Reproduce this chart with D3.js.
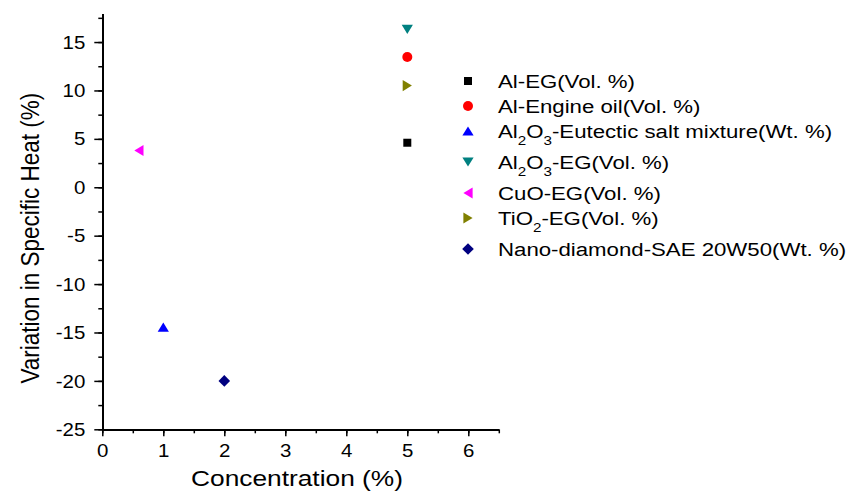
<!DOCTYPE html>
<html>
<head>
<meta charset="utf-8">
<script src="https://cdn.jsdelivr.net/npm/d3@7"></script>
<style>
  html, body { margin: 0; padding: 0; background: #fff; }
  svg text { font-family: "Liberation Sans", Arial, sans-serif; fill: #000; }
</style>
</head>
<body>
<svg id="chart" width="852" height="498"></svg>
<script>
// ---------- data ----------
const seriesNames = [
  "Al-EG(Vol. %)",
  "Al-Engine oil(Vol. %)",
  "Al_2O_3-Eutectic salt mixture(Wt. %)",
  "Al_2O_3-EG(Vol. %)",
  "CuO-EG(Vol. %)",
  "TiO_2-EG(Vol. %)",
  "Nano-diamond-SAE 20W50(Wt. %)"
];
const concentration = [5, 5, 1, 5, 0.6, 5, 2];
const variation = [4.6, 13.45, -14.45, 16.3, 3.8, 10.5, -20.0];
const symbols = ["square", "circle", "triUp", "triDown", "triLeft", "triRight", "diamond"];
const colors = ["#000000", "#ff0000", "#0000ff", "#008080", "#ff00ff", "#808000", "#000080"];
const xTicks = [0, 1, 2, 3, 4, 5, 6];
const yTicks = [-25, -20, -15, -10, -5, 0, 5, 10, 15];
const xTitle = "Concentration (%)";
const yTitle = "Variation in Specific Heat (%)";

// ---------- layout ----------
const svg = d3.select("#chart");
const STRETCH = 1.17;
const x = d3.scaleLinear().domain([0, 6.5]).range([102.3, 498.8]);
const y = d3.scaleLinear().domain([-25, 18]).range([429.3, 13]);
const fmt = d => String(d);

// minor ticks
const xMinor = d3.range(0, 6.51, 0.5);
const yMinor = d3.range(-25, 18.01, 2.5);

const gx = svg.append("g").attr("transform", `translate(0,${y(-25)})`);
gx.call(d3.axisBottom(x).tickValues(xMinor).tickSize(4).tickSizeOuter(0).tickFormat(""));
gx.call(g => g.select(".domain").remove());
const gxMajor = svg.append("g").attr("transform", `translate(0,${y(-25)})`);
gxMajor.call(d3.axisBottom(x).tickValues(xTicks).tickSize(7).tickSizeOuter(0).tickPadding(7).tickFormat(fmt));

const gy = svg.append("g").attr("transform", `translate(${x(0)},0)`);
gy.call(d3.axisLeft(y).tickValues(yMinor).tickSize(4).tickSizeOuter(0).tickFormat(""));
gy.call(g => g.select(".domain").remove());
const gyMajor = svg.append("g").attr("transform", `translate(${x(0)},0)`);
gyMajor.call(d3.axisLeft(y).tickValues(yTicks).tickSize(8).tickSizeOuter(0).tickPadding(7).tickFormat(fmt));

svg.selectAll(".domain, .tick line").attr("stroke", "#000").attr("stroke-width", 1.5);
svg.selectAll(".domain").attr("shape-rendering", "crispEdges");

gxMajor.selectAll(".tick text")
  .attr("font-size", 17.5).attr("font-family", "Liberation Sans, Arial, sans-serif")
  .attr("fill", "#000").attr("dy", null).attr("y", 0)
  .attr("transform", `translate(0,27.5) scale(${STRETCH},1)`);
gyMajor.selectAll(".tick text")
  .attr("font-size", 17.5).attr("font-family", "Liberation Sans, Arial, sans-serif")
  .attr("fill", "#000").attr("x", 0).attr("dy", "0.35em")
  .attr("transform", `translate(-17,0) scale(${STRETCH},1)`);

// axis titles
svg.append("text")
  .attr("transform", `translate(297,486) scale(${STRETCH},1)`)
  .attr("text-anchor", "middle").attr("font-size", 22.5)
  .text(xTitle);
svg.append("text")
  .attr("transform", `translate(39,${(y(-25) + y(18)) / 2 + 17}) scale(${STRETCH},1) rotate(-90)`)
  .attr("text-anchor", "middle").attr("font-size", 22.5)
  .text(yTitle);

// ---------- symbols ----------
function tri(rot) {
  return {
    draw(ctx) {
      const w = 5.6, h = 4.6;
      const p = [[0, -h], [w, h], [-w, h]].map(([px, py]) => {
        const a = rot * Math.PI / 180;
        return [px * Math.cos(a) - py * Math.sin(a), px * Math.sin(a) + py * Math.cos(a)];
      });
      ctx.moveTo(p[0][0], p[0][1]);
      ctx.lineTo(p[1][0], p[1][1]);
      ctx.lineTo(p[2][0], p[2][1]);
      ctx.closePath();
    }
  };
}
const symbolTypes = {
  square: { draw(ctx) { ctx.rect(-4, -4, 8, 8); } },
  circle: { draw(ctx) { ctx.moveTo(5, 0); ctx.arc(0, 0, 5, 0, 2 * Math.PI); } },
  triUp: tri(0),
  triDown: tri(180),
  triLeft: tri(-90),
  triRight: tri(90),
  diamond: { draw(ctx) { ctx.moveTo(0, -5.8); ctx.lineTo(5.8, 0); ctx.lineTo(0, 5.8); ctx.lineTo(-5.8, 0); ctx.closePath(); } }
};
const symPath = t => d3.symbol().type(symbolTypes[t])();

const pts = seriesNames.map((n, i) => ({ name: n, cx: concentration[i], cy: variation[i], sym: symbols[i], color: colors[i] }));

svg.append("g").selectAll("path").data(pts).join("path")
  .attr("transform", d => `translate(${x(d.cx)},${y(d.cy)})`)
  .attr("d", d => symPath(d.sym))
  .attr("fill", d => d.color);

// ---------- legend ----------
const legend = svg.append("g");
let ly = 81;
pts.forEach((d, i) => {
  if (i > 0) ly += 25 + (seriesNames[i - 1].includes("_") ? 6 : 0);
  legend.append("path")
    .attr("transform", `translate(468,${ly})`)
    .attr("d", symPath(d.sym))
    .attr("fill", d.color);
  const t = legend.append("text")
    .attr("transform", `translate(498,${ly + 6.7}) scale(${STRETCH},1)`)
    .attr("font-size", 19);
  const parts = d.name.split(/(_\d)/).filter(s => s.length);
  let shifted = false;
  parts.forEach(p => {
    if (p.startsWith("_")) {
      t.append("tspan").attr("font-size", 13).attr("dy", shifted ? 0 : 7).text(p.slice(1));
      shifted = true;
    } else {
      t.append("tspan").attr("dy", shifted ? -7 : 0).text(p);
      shifted = false;
    }
  });
});
</script>
</body>
</html>
